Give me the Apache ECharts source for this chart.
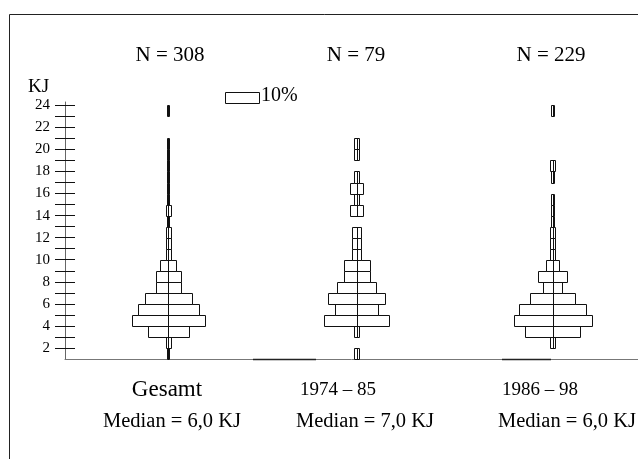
<!DOCTYPE html>
<html>
<head>
<meta charset="utf-8">
<script src="https://cdn.jsdelivr.net/npm/echarts@6/dist/echarts.min.js"></script>
<style>
  html, body { margin: 0; padding: 0; background: #fff; }
  #chart { width: 638px; height: 459px; }
</style>
</head>
<body>
<div id="chart"></div>
<script>
// Energy classes in KJ: each bar covers [start, start + 1)
const binStarts = [1, 2, 3, 4, 5, 6, 7, 8, 9, 10, 11, 12, 13, 14, 15, 16, 17, 18, 19, 20, 21, 22, 23];

const groupNames = ['Gesamt', '1974 – 85', '1986 – 98'];
const groupN = [308, 79, 229];
const groupMedian = ['6,0', '7,0', '6,0'];

// Share of cases per class, in percent
const shareGesamt = [0.6, 1.6, 12.0, 21.2, 17.9, 13.7, 7.2, 7.2, 4.6, 1.6, 1.6, 1.6, 0.6, 1.6, 0.6, 0.6, 0.6, 0.6, 0.6, 0.6, 0, 0, 0.6];
const share1974 = [1.3, 0, 1.3, 19.0, 12.7, 16.5, 11.4, 7.6, 7.6, 2.5, 2.5, 2.5, 0, 3.8, 1.3, 3.8, 1.3, 0, 1.3, 1.3, 0, 0, 0];
const share1986 = [0, 1.7, 16.2, 22.7, 19.7, 13.1, 5.7, 8.3, 3.9, 1.7, 1.7, 1.7, 0.9, 0.9, 0.9, 0, 0.9, 1.7, 0, 0, 0, 0, 0.9];

const yTickValues = [2, 3, 4, 5, 6, 7, 8, 9, 10, 11, 12, 13, 14, 15, 16, 17, 18, 19, 20, 21, 22, 23, 24];
const yLabelValues = [2, 4, 6, 8, 10, 12, 14, 16, 18, 20, 22, 24];

const keyShare = 10;

// Layout: horizontal axis runs in percent units, so bar widths come from the axis scale
const X_MAX = 167;
const GROUP_X = [30.1, 85.0, 142.1];
const KEY_X = 46.6;
const KEY_KJ = 24.2;

const FONT = "'Liberation Serif', 'Times New Roman', serif";

const shares = [shareGesamt, share1974, share1986];
const histData = [];
shares.forEach(function (arr, g) {
  arr.forEach(function (v, i) {
    if (v > 0) histData.push([g, binStarts[i], v]);
  });
});

function crisp(v) { return Math.round(v) + 0.5; }

function renderBin(params, api) {
  const cx = GROUP_X[api.value(0)];
  const lo = api.value(1);
  const share = api.value(2);
  const pb = api.coord([cx, lo]);
  const pt = api.coord([cx, lo + 1]);
  const w = api.size([share, 0])[0];
  const xc = crisp(pb[0]);
  const x0 = crisp(pb[0] - w / 2);
  const x1 = crisp(pb[0] + w / 2);
  const yb = crisp(pb[1]);
  const yt = crisp(pt[1]);
  return {
    type: 'group',
    children: [
      { type: 'rect', shape: { x: x0, y: yt, width: Math.max(x1 - x0, 1), height: yb - yt },
        style: { fill: '#fff', stroke: '#111', lineWidth: 1 } },
      { type: 'line', shape: { x1: xc, y1: yb, x2: xc, y2: yt },
        style: { stroke: '#111', lineWidth: 1 } }
    ]
  };
}

function renderKey(params, api) {
  const left = api.value(0);
  const lo = api.value(1);
  const share = api.value(2);
  const pb = api.coord([left, lo]);
  const pt = api.coord([left, lo + 1]);
  const w = api.size([share, 0])[0];
  const x0 = crisp(pb[0]);
  return {
    type: 'rect',
    shape: { x: x0, y: crisp(pt[1]), width: Math.round(w), height: Math.round(pb[1] - pt[1]) },
    style: { fill: '#fff', stroke: '#111', lineWidth: 1 }
  };
}

const chart = echarts.init(document.getElementById('chart'), null, { renderer: 'canvas' });

const textStyle = function (size) {
  return { fontFamily: FONT, fontSize: size, fill: '#000' };
};

const graphics = [
  { type: 'rect', shape: { x: 9.5, y: 14.5, width: 700, height: 500 },
    style: { fill: 'none', stroke: '#222', lineWidth: 1 }, silent: true, z: 0 },
  { type: 'text', left: 28, top: 78, style: Object.assign({ text: 'KJ' }, textStyle(19)) },
  { type: 'text', left: 261, top: 86, style: Object.assign({ text: keyShare + '%' }, textStyle(20)) },
  // darker stretches along the baseline between the groups
  { type: 'line', z: 20, shape: { x1: 253, y1: 359.5, x2: 316, y2: 359.5 }, style: { stroke: '#222', lineWidth: 1.5 } },
  { type: 'line', z: 20, shape: { x1: 502, y1: 359.5, x2: 551, y2: 359.5 }, style: { stroke: '#222', lineWidth: 1.5 } }
];

// Sample sizes above each group
const nX = [170, 356, 551];
nX.forEach(function (x, g) {
  graphics.push({ type: 'text', x: x, y: 55,
    style: Object.assign({ text: 'N = ' + groupN[g], align: 'center', verticalAlign: 'middle' }, textStyle(21)) });
});

// Group names and medians below the baseline
const nameX = [167, 338, 540];
const nameSize = [23, 19, 19];
const medX = [172, 365, 567];
groupNames.forEach(function (name, g) {
  graphics.push({ type: 'text', x: nameX[g], y: 390,
    style: Object.assign({ text: name, align: 'center', verticalAlign: 'middle' }, textStyle(nameSize[g])) });
  graphics.push({ type: 'text', x: medX[g], y: 422,
    style: Object.assign({ text: 'Median = ' + groupMedian[g] + ' KJ', align: 'center', verticalAlign: 'middle' }, textStyle(20.5)) });
});

chart.setOption({
  animation: false,
  backgroundColor: '#fff',
  grid: { left: 65, right: 0, top: 102, bottom: 100 },
  xAxis: {
    type: 'value', min: 0, max: X_MAX,
    axisLine: { show: true, lineStyle: { color: '#777', width: 1 } },
    axisTick: { show: false }, axisLabel: { show: false }, splitLine: { show: false }
  },
  yAxis: [
    {
      type: 'value', min: 1, max: 24.3, position: 'left',
      axisLine: { show: true, lineStyle: { color: '#666', width: 1 } },
      axisTick: { show: true, length: 10, customValues: yTickValues, lineStyle: { color: '#111' } },
      axisLabel: { show: true, customValues: yLabelValues, margin: 15, color: '#000', fontFamily: FONT, fontSize: 15 },
      splitLine: { show: false }
    },
    {
      type: 'value', min: 1, max: 24.3, position: 'left', offset: 0,
      axisLine: { show: false },
      axisTick: { show: true, inside: true, length: 10, customValues: yTickValues, lineStyle: { color: '#111' } },
      axisLabel: { show: false }, splitLine: { show: false }
    }
  ],
  series: [
    { type: 'custom', name: 'Verteilung', xAxisIndex: 0, yAxisIndex: 0,
      renderItem: renderBin, data: histData, clip: false, z: 3 },
    { type: 'custom', name: 'Maßstab', xAxisIndex: 0, yAxisIndex: 0,
      renderItem: renderKey, data: [[KEY_X, KEY_KJ, keyShare]], clip: false, z: 3 }
  ],
  graphic: graphics
});
</script>
</body>
</html>
